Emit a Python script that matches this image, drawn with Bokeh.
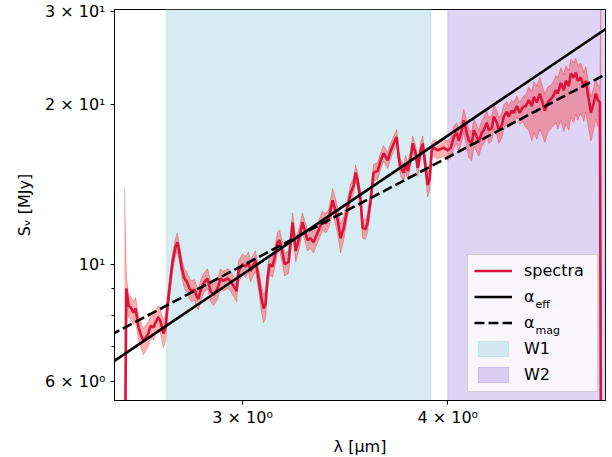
import numpy as np
from bokeh.plotting import figure
from bokeh.models import (Range1d, FixedTicker, Legend, LegendItem, Label, ColumnDataSource,
                          BoxAnnotation)
from bokeh.embed import file_html
from bokeh.resources import INLINE

# ---------------- data ----------------
wavelength = [
    2.542, 2.549, 2.557, 2.564, 2.575, 2.582, 2.593, 2.600, 2.611, 2.618,
    2.629, 2.637, 2.648, 2.655, 2.666, 2.674, 2.685, 2.693, 2.700, 2.708,
    2.719, 2.731, 2.738, 2.746, 2.754, 2.765, 2.773, 2.785, 2.793, 2.805,
    2.813, 2.820, 2.828, 2.840, 2.856, 2.868, 2.880, 2.897, 2.909, 2.921,
    2.938, 2.950, 2.962, 2.975, 2.983, 3.000, 3.013, 3.025, 3.034, 3.042,
    3.055, 3.068, 3.081, 3.090, 3.098, 3.107, 3.116, 3.129, 3.138, 3.151,
    3.160, 3.173, 3.182, 3.200, 3.218, 3.232, 3.250, 3.263, 3.286, 3.300,
    3.314, 3.338, 3.356, 3.371, 3.385, 3.404, 3.413, 3.428, 3.442, 3.457,
    3.476, 3.491, 3.506, 3.515, 3.525, 3.540, 3.550, 3.565, 3.575, 3.590,
    3.605, 3.626, 3.641, 3.656, 3.677, 3.693, 3.708, 3.724, 3.734, 3.745,
    3.760, 3.771, 3.782, 3.798, 3.808, 3.824, 3.835, 3.851, 3.862, 3.873,
    3.889, 3.900, 3.911, 3.922, 3.944, 3.961, 3.977, 4.000, 4.017, 4.034,
    4.051, 4.062, 4.079, 4.091, 4.108, 4.120, 4.137, 4.149, 4.166, 4.178,
    4.195, 4.207, 4.225, 4.237, 4.255, 4.267, 4.285, 4.297, 4.315, 4.327,
    4.345, 4.357, 4.376, 4.388, 4.407, 4.425, 4.444, 4.463, 4.481, 4.500,
    4.513, 4.532, 4.551, 4.564, 4.583, 4.602, 4.615, 4.635, 4.654, 4.667,
    4.687, 4.707, 4.720, 4.740, 4.753, 4.773, 4.787, 4.800, 4.820, 4.841,
    4.854, 4.875, 4.889, 4.909, 4.923, 4.937, 4.951, 4.960,
]
flux = [
    3.0, 9.0, 8.35, 8.3, 8.1, 8.25, 7.6, 7.4, 7.15, 7.25,
    7.4, 7.65, 7.6, 7.75, 7.95, 7.8, 7.4, 7.6, 8.3, 9.0,
    10.05, 10.8, 11.0, 10.5, 9.9, 9.4, 9.3, 9.0, 8.9, 8.95,
    8.7, 8.6, 8.9, 9.2, 9.4, 8.9, 8.75, 9.0, 9.4, 9.3,
    9.4, 9.3, 9.1, 8.9, 9.7, 10.0, 9.9, 10.1, 9.7, 9.9,
    10.15, 9.4, 8.6, 8.25, 8.4, 9.4, 10.0, 9.9, 10.3, 11.0,
    11.1, 10.5, 10.0, 10.1, 12.0, 10.6, 11.3, 12.0, 11.1, 11.2,
    11.0, 11.6, 12.1, 11.95, 12.2, 13.2, 12.8, 12.1, 11.2, 11.7,
    12.8, 13.65, 14.1, 14.9, 14.4, 13.2, 11.7, 11.65, 12.0, 13.2,
    14.9, 15.0, 15.7, 16.2, 15.7, 16.4, 16.9, 17.4, 15.9, 15.2,
    14.9, 15.5, 15.0, 15.9, 16.9, 16.2, 15.2, 16.4, 16.9, 15.7,
    14.1, 14.5, 16.4, 16.6, 16.4, 16.5, 16.6, 16.4, 16.6, 17.4,
    17.7, 17.1, 17.9, 18.7, 17.7, 17.1, 16.9, 17.9, 17.4, 17.0,
    17.7, 17.9, 18.5, 17.9, 18.1, 19.0, 18.5, 17.9, 18.3, 19.0,
    19.4, 19.0, 19.5, 19.3, 19.9, 19.3, 19.8, 19.9, 20.4, 19.9,
    20.7, 20.2, 21.0, 20.4, 19.5, 20.2, 20.4, 20.7, 21.3, 21.0,
    22.0, 21.3, 22.2, 21.7, 22.9, 22.5, 23.0, 22.2, 22.5, 21.6,
    22.2, 20.4, 19.3, 20.2, 21.0, 20.4, 20.2, 3.0,
]
err_up = [
    11.0, 0.5, 0.4, 0.4, 0.4, 0.4, 0.4, 0.4, 0.4, 0.4,
    0.4, 0.4, 0.4, 0.4, 0.4, 0.4, 0.45, 0.4, 0.4, 0.4,
    0.4, 0.4, 0.45, 0.4, 0.4, 0.4, 0.4, 0.4, 0.4, 0.4,
    0.4, 0.4, 0.4, 0.4, 0.4, 0.4, 0.4, 0.4, 0.4, 0.4,
    0.4, 0.4, 0.4, 0.4, 0.45, 0.45, 0.45, 0.45, 0.45, 0.45,
    0.45, 0.45, 0.5, 0.5, 0.5, 0.45, 0.45, 0.45, 0.45, 0.5,
    0.5, 0.5, 0.5, 0.5, 0.5, 0.5, 0.5, 0.5, 0.5, 0.5,
    0.5, 0.5, 0.5, 0.5, 0.5, 0.7, 0.7, 0.7, 0.7, 0.6,
    0.5, 0.5, 0.5, 0.5, 0.5, 0.5, 0.5, 0.5, 0.5, 0.5,
    0.55, 0.55, 0.55, 0.55, 0.55, 0.55, 0.55, 0.55, 0.55, 0.55,
    0.55, 0.55, 0.55, 0.55, 0.55, 0.55, 0.55, 0.55, 0.55, 0.55,
    0.7, 0.7, 0.6, 0.6, 0.6, 0.6, 0.6, 0.7, 0.7, 0.8,
    0.8, 0.8, 0.8, 0.9, 0.9, 0.9, 0.9, 0.9, 0.9, 0.9,
    1.0, 1.0, 1.0, 1.0, 1.0, 1.0, 1.0, 1.0, 1.0, 1.0,
    0.9, 0.9, 0.9, 0.9, 0.9, 0.9, 0.9, 1.0, 1.2, 1.3,
    1.4, 1.5, 1.5, 1.5, 1.5, 1.4, 1.3, 1.3, 1.4, 1.5,
    1.5, 1.5, 1.5, 1.5, 1.5, 1.5, 1.5, 1.5, 1.5, 1.4,
    1.4, 1.4, 1.4, 1.4, 1.4, 1.4, 1.4, 35.0,
]
err_dn = [
    2.0, 0.5, 0.4, 0.4, 0.4, 0.4, 0.4, 0.4, 0.4, 0.4,
    0.4, 0.4, 0.4, 0.4, 0.4, 0.4, 0.45, 0.4, 0.4, 0.4,
    0.4, 0.4, 0.45, 0.4, 0.4, 0.4, 0.4, 0.4, 0.4, 0.4,
    0.4, 0.4, 0.4, 0.4, 0.4, 0.4, 0.4, 0.4, 0.4, 0.4,
    0.4, 0.4, 0.4, 0.4, 0.45, 0.45, 0.45, 0.45, 0.45, 0.45,
    0.45, 0.45, 0.5, 0.5, 0.5, 0.45, 0.45, 0.45, 0.45, 0.5,
    0.5, 0.5, 0.5, 0.5, 0.5, 0.5, 0.5, 0.5, 0.5, 0.5,
    0.5, 0.5, 0.5, 0.5, 0.5, 0.7, 0.7, 0.7, 0.7, 0.6,
    0.5, 0.5, 0.5, 0.5, 0.5, 0.5, 0.5, 0.5, 0.5, 0.5,
    0.55, 0.55, 0.55, 0.55, 0.55, 0.55, 0.55, 0.55, 0.55, 0.55,
    0.55, 0.55, 0.55, 0.55, 0.55, 0.55, 0.55, 0.55, 0.55, 0.55,
    0.7, 0.7, 0.6, 0.6, 0.6, 0.6, 0.6, 0.7, 0.7, 0.8,
    0.8, 0.8, 0.9, 1.0, 1.1, 1.2, 1.2, 1.2, 1.1, 1.0,
    1.0, 1.0, 1.0, 1.0, 1.0, 1.0, 1.0, 1.0, 1.0, 1.0,
    0.9, 0.9, 0.9, 0.9, 0.9, 0.9, 1.2, 1.8, 2.5, 2.8,
    3.0, 3.0, 3.0, 2.8, 2.5, 2.5, 2.5, 2.5, 2.8, 3.0,
    3.3, 3.5, 3.8, 3.8, 4.0, 4.0, 3.8, 3.5, 3.2, 3.0,
    2.8, 2.5, 2.2, 2.2, 2.2, 2.2, 2.2, 2.0,
]

# WISE band ranges (micron)
w1_band = [2.697, 3.906]
w2_band = [4.0, 5.2]

# power-law fits S ~ (lambda / lam_ref)^alpha
lam_ref = 3.5
alpha_eff, norm_eff = 2.095, 13.22
alpha_mag, norm_mag = 1.633, 12.79
fit_lam = [2.45, 5.1]

x_ticks = [3, 4]
x_tick_labels = ["3 × 10⁰", "4 × 10⁰"]
y_ticks = [6, 10, 20, 30]
y_tick_labels = ["6 × 10⁰", "10¹", "2 × 10¹", "3 × 10¹"]
y_minor_ticks = [7, 8, 9]

x_lim = [2.507, 4.99]
y_lim = [5.53, 30.26]

# ---------------- plot ----------------
FONT = "DejaVu Sans"
p = figure(x_axis_type="log", y_axis_type="log",
           x_range=Range1d(*x_lim), y_range=Range1d(*y_lim),
           frame_width=491, frame_height=391,
           min_border_left=114, min_border_right=4, min_border_top=9, min_border_bottom=48,
           output_backend="svg", toolbar_location=None)
p.grid.grid_line_color = None
p.outline_line_color = "black"
p.outline_line_alpha = 1
p.outline_line_width = 1
p.background_fill_color = "white"
p.border_fill_color = "white"

y_lo, y_hi = 0.1, 1000.0
r_w1 = p.quad(left=[w1_band[0]], right=[w1_band[1]], bottom=[y_lo], top=[y_hi],
              fill_color="lightblue", fill_alpha=0.5, line_color="lightblue", line_alpha=0.5, line_width=1)
r_w2 = p.quad(left=[w2_band[0]], right=[w2_band[1]], bottom=[y_lo], top=[y_hi],
              fill_color="mediumpurple", fill_alpha=0.3, line_color="mediumpurple", line_alpha=0.3, line_width=1)

lam = np.array(wavelength)
S = np.array(flux)
upper = S + np.array(err_up)
lower = np.maximum(S - np.array(err_dn), 0.5)
src = ColumnDataSource(dict(x=lam, y=S, lo=lower, hi=upper))
p.varea(x="x", y1="lo", y2="hi", source=src, fill_color="red", fill_alpha=0.3)
p.line(x="x", y="lo", source=src, line_color="red", line_alpha=0.3, line_width=1)
p.line(x="x", y="hi", source=src, line_color="red", line_alpha=0.3, line_width=1)
r_spec = p.line(x="x", y="y", source=src, line_color="crimson", line_width=2.6)

fl = np.array(fit_lam)
r_eff = p.line(fl, norm_eff * (fl / lam_ref) ** alpha_eff, line_color="black", line_width=2.6)
r_mag = p.line(fl, norm_mag * (fl / lam_ref) ** alpha_mag, line_color="black", line_width=2.6,
               line_dash="10 4")

# axes
for ax in (p.xaxis[0], p.yaxis[0]):
    ax.axis_line_color = "black"
    ax.major_tick_line_color = "black"
    ax.minor_tick_line_color = "black"
    ax.major_tick_in = 0
    ax.minor_tick_in = 0
    ax.major_tick_out = 4
    ax.minor_tick_out = 3
    ax.major_label_text_font = FONT
    ax.major_label_text_font_size = "16px"
    ax.major_label_text_color = "black"
    ax.axis_label_text_font = FONT
    ax.axis_label_text_font_size = "16px"
    ax.axis_label_text_font_style = "normal"
    ax.axis_label_text_color = "black"

p.xaxis.ticker = FixedTicker(ticks=x_ticks, minor_ticks=[])
p.xaxis.major_label_overrides = dict(zip(x_ticks, x_tick_labels))
p.xaxis.major_label_standoff = 3
p.xaxis.axis_label = "λ [μm]"
p.xaxis.axis_label_standoff = 7

p.yaxis.ticker = FixedTicker(ticks=y_ticks, minor_ticks=y_minor_ticks)
p.yaxis.major_label_overrides = dict(zip(y_ticks, y_tick_labels))
p.yaxis.major_label_standoff = 5
p.yaxis.axis_label = "Sᵥ [MJy]"
p.yaxis.axis_label_standoff = 8

# legend frame (semi-transparent box drawn behind the legend entries)
LEG_X, LEG_Y, LEG_W, LEG_H = 353, 9, 130, 137
p.add_layout(BoxAnnotation(left=LEG_X, right=LEG_X + LEG_W, bottom=LEG_Y, top=LEG_Y + LEG_H,
                           left_units="screen", right_units="screen",
                           bottom_units="screen", top_units="screen",
                           fill_color="white", fill_alpha=0.8,
                           line_color="#cccccc", line_alpha=1, line_width=1))

legend = Legend(items=[
    LegendItem(label="spectra", renderers=[r_spec]),
    LegendItem(label="α", renderers=[r_eff]),
    LegendItem(label="α", renderers=[r_mag]),
    LegendItem(label="W1", renderers=[r_w1]),
    LegendItem(label="W2", renderers=[r_w2]),
], location=(LEG_X, LEG_Y))
legend.margin = 0
legend.padding = 7
legend.spacing = 7
legend.glyph_width = 38
legend.glyph_height = 19
legend.label_height = 19
legend.label_standoff = 12
legend.label_text_font = FONT
legend.label_text_font_size = "16px"
legend.label_text_color = "black"
legend.border_line_alpha = 0
legend.background_fill_alpha = 0
p.add_layout(legend)

for txt, yy in (("eff", 96), ("mag", 70)):
    p.add_layout(Label(x=421, y=yy, x_units="screen", y_units="screen", text=txt,
                       text_font=FONT, text_font_size="11px", text_baseline="alphabetic",
                       text_color="black", level="overlay"))

open("out.html", "w").write(file_html(p, INLINE))
